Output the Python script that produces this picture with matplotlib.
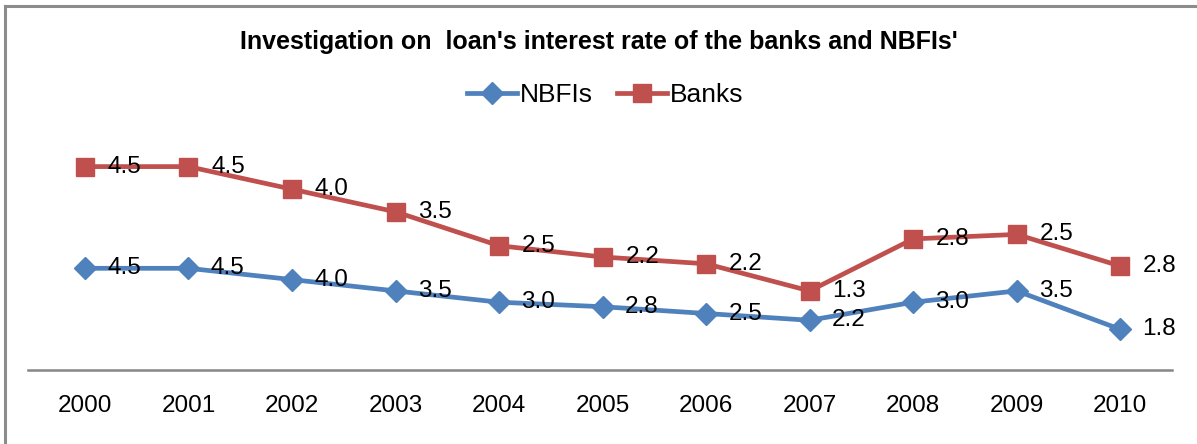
import matplotlib
matplotlib.use("Agg")
import matplotlib.pyplot as plt
from matplotlib.lines import Line2D
import numpy as np

plt.rcParams['font.family'] = ['Liberation Sans', 'DejaVu Sans']

years = ['2000', '2001', '2002', '2003', '2004', '2005', '2006', '2007', '2008', '2009', '2010']
nbfis = [4.5, 4.5, 4.0, 3.5, 3.0, 2.8, 2.5, 2.2, 3.0, 3.5, 1.8]
banks = [4.5, 4.5, 4.0, 3.5, 2.5, 2.2, 2.2, 1.3, 2.8, 2.5, 2.8]

blue = '#4F81BD'
red = '#C0504D'

W, H = 1197, 444
fig = plt.figure(figsize=(W / 100, H / 100), dpi=100)

ax = fig.add_axes([28 / W, (H - 370) / H, (1172 - 28) / W, 226 / H])
x = np.arange(len(years))
nb = np.array(nbfis)
bk_stacked = nb + np.array(banks)

ax.plot(x, nb, color=blue, lw=3.4, marker='D', ms=11, label='NBFIs', zorder=3)
ax.plot(x, bk_stacked, color=red, lw=3.4, marker='s', ms=13.5, label='Banks', zorder=3)

for xi, v, lab in zip(x, nb, nbfis):
    ax.annotate(f'{lab:.1f}', (xi, v), xytext=(16, 0), textcoords='offset points',
                ha='left', va='center', fontsize=17.5, color='black', zorder=4)
for xi, v, lab in zip(x, bk_stacked, banks):
    ax.annotate(f'{lab:.1f}', (xi, v), xytext=(16.5, 0), textcoords='offset points',
                ha='left', va='center', fontsize=17.5, color='black', zorder=4)

ax.set_xlim(-0.55, 10.5)
ax.set_ylim(0, 10)
ax.set_xticks(x)
ax.set_xticklabels(years, fontsize=17.5)
ax.tick_params(axis='x', length=0, pad=18)
ax.set_yticks([])
for s in ['top', 'right', 'left']:
    ax.spines[s].set_visible(False)
ax.spines['bottom'].set_color('#868686')
ax.spines['bottom'].set_linewidth(1.8)
ax.patch.set_alpha(0)

fig.text(599 / W, (H - 42) / H, "Investigation on  loan's interest rate of the banks and NBFIs'",
         ha='center', va='center', fontsize=18, fontweight='bold')

handles = [Line2D([], [], color=blue, lw=3.4, marker='D', ms=11),
           Line2D([], [], color=red, lw=3.4, marker='s', ms=13.5)]
fig.legend(handles, ['NBFIs', 'Banks'], loc='center', bbox_to_anchor=(605 / W, (H - 95) / H),
           ncol=2, frameon=False, fontsize=19, handlelength=1.9, handletextpad=0.1,
           columnspacing=0.9)

# outer chart frame (top and left visible)
fig.add_artist(Line2D([5 / W, 1.0], [(H - 6) / H, (H - 6) / H], color='#8C8C8C', lw=2.2,
                      transform=fig.transFigure))
fig.add_artist(Line2D([5 / W, 5 / W], [0, (H - 6) / H], color='#8C8C8C', lw=2.2,
                      transform=fig.transFigure))

fig.savefig('out.png', dpi=100, facecolor='white')
